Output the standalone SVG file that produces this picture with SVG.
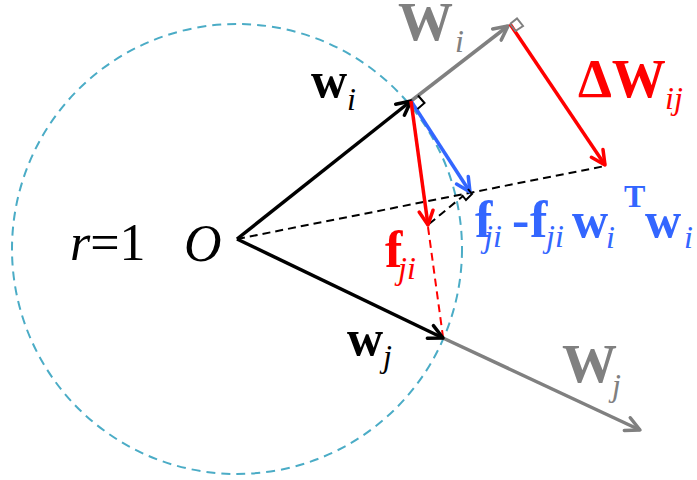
<svg xmlns="http://www.w3.org/2000/svg" width="697" height="480" viewBox="0 0 697 480">
<style>
.t{font-family:'Liberation Serif','DejaVu Serif',serif}
.b{font-weight:bold}
.it{font-style:italic;font-weight:normal}
.vec{fill:none;stroke-width:3.5;stroke-linecap:butt}
.dash{fill:none;stroke-width:2;stroke-dasharray:8 5}
.sq{fill:none;stroke-width:2}
</style>
<defs>
<marker id="ak" viewBox="0 0 20 20" refX="17" refY="10" markerWidth="20" markerHeight="20" markerUnits="userSpaceOnUse" orient="auto"><path d="M3,3 L17,10 L3,17" fill="none" stroke="#000" stroke-width="3.5" stroke-linecap="round" stroke-linejoin="round"/></marker>
<marker id="ag" viewBox="0 0 20 20" refX="17" refY="10" markerWidth="20" markerHeight="20" markerUnits="userSpaceOnUse" orient="auto"><path d="M3,3 L17,10 L3,17" fill="none" stroke="#808080" stroke-width="3.5" stroke-linecap="round" stroke-linejoin="round"/></marker>
<marker id="ar" viewBox="0 0 20 20" refX="17" refY="10" markerWidth="20" markerHeight="20" markerUnits="userSpaceOnUse" orient="auto"><path d="M3,3 L17,10 L3,17" fill="none" stroke="#FF0000" stroke-width="3.5" stroke-linecap="round" stroke-linejoin="round"/></marker>
<marker id="ab" viewBox="0 0 20 20" refX="17" refY="10" markerWidth="20" markerHeight="20" markerUnits="userSpaceOnUse" orient="auto"><path d="M3,3 L17,10 L3,17" fill="none" stroke="#3366FF" stroke-width="3.5" stroke-linecap="round" stroke-linejoin="round"/></marker>
</defs>
<rect width="697" height="480" fill="#fff"/>
<g id="circle">
<circle cx="237" cy="249" r="225" fill="none" stroke="#4BACC6" stroke-width="2" stroke-dasharray="9 6"/>
</g>
<g id="connectors">
<line class="dash" stroke="#000" x1="237" y1="239" x2="605" y2="166"/>
<line class="dash" stroke="#000" x1="429" y1="224" x2="463" y2="196"/>
<line class="dash" stroke="#FF0000" x1="428" y1="227" x2="443" y2="337"/>
<line class="vec" stroke="#808080" x1="411" y1="101" x2="508" y2="26" marker-end="url(#ag)"/>
<line class="vec" stroke="#808080" x1="443" y1="338" x2="640" y2="430" marker-end="url(#ag)"/>
<line class="vec" stroke="#000" x1="237" y1="239" x2="411" y2="101" marker-end="url(#ak)"/>
<line class="vec" stroke="#000" x1="237" y1="239" x2="443" y2="338" marker-end="url(#ak)"/>
<line class="vec" stroke="#FF0000" x1="510" y1="24" x2="605" y2="165" marker-end="url(#ar)"/>
<line class="vec" stroke="#3366FF" x1="411" y1="101" x2="470" y2="192" marker-end="url(#ab)"/>
<line class="vec" stroke="#FF0000" x1="411" y1="101" x2="428" y2="225" marker-end="url(#ar)"/>
<polyline class="sq" stroke="#000" points="418,95.5 424.5,103 417.5,109"/>
<polyline class="sq" stroke="#808080" points="510,24 517,18.5 523,26 515.5,31 510,24"/>
<polyline class="sq" stroke="#000" points="462,195 466,200 472,194 468,189"/>
</g>
<g id="label-Wi" fill="#808080" font-family="Liberation Serif, DejaVu Serif, serif">
<text class="t b" x="398" y="40" font-size="55">W</text>
<text class="t it" x="455" y="52" font-size="32">i</text>
</g>
<g id="label-dWij" fill="#FF0000" font-family="Liberation Serif, DejaVu Serif, serif">
<text class="t b" x="578" y="97" font-size="54">ΔW</text>
<text class="t it" x="665" y="109" font-size="32">ij</text>
</g>
<g id="label-wi" fill="#000" font-family="Liberation Serif, DejaVu Serif, serif">
<text class="t b" x="311" y="97" font-size="50">w</text>
<text class="t it" x="347" y="110" font-size="32">i</text>
</g>
<g id="label-r" font-family="Liberation Serif, DejaVu Serif, serif">
<text class="t" x="70" y="260" font-size="52" fill="#000"><tspan font-style="italic">r</tspan>=1</text>
</g>
<g id="label-O" font-family="Liberation Serif, DejaVu Serif, serif">
<text class="t it" x="184" y="261" font-size="52" fill="#000">O</text>
</g>
<g id="label-fji" fill="#FF0000" font-family="Liberation Serif, DejaVu Serif, serif">
<text class="t b" x="385" y="267" font-size="52">f</text>
<text class="t it" x="398" y="279" font-size="32">ji</text>
</g>
<g id="label-proj" fill="#3366FF" font-family="Liberation Serif, DejaVu Serif, serif">
<text class="t b" x="475" y="237" font-size="52">f</text>
<text class="t it" x="484" y="247" font-size="32">ji</text>
<text class="t b" x="512" y="237" font-size="52">-</text>
<text class="t b" x="530" y="237" font-size="52">f</text>
<text class="t it" x="546" y="247" font-size="32">ji</text>
<text class="t b" x="572" y="237" font-size="50">w</text>
<text class="t it" x="606" y="248" font-size="32">i</text>
<text class="t b" x="624" y="207" font-size="32">T</text>
<text class="t b" x="645" y="237" font-size="50">w</text>
<text class="t it" x="684" y="248" font-size="32">i</text>
</g>
<g id="label-wj" fill="#000" font-family="Liberation Serif, DejaVu Serif, serif">
<text class="t b" x="347" y="355" font-size="50">w</text>
<text class="t it" x="383" y="367" font-size="32">j</text>
</g>
<g id="label-Wj" fill="#808080" font-family="Liberation Serif, DejaVu Serif, serif">
<text class="t b" x="562" y="382" font-size="55">W</text>
<text class="t it" x="612" y="396" font-size="32">j</text>
</g>
</svg>
